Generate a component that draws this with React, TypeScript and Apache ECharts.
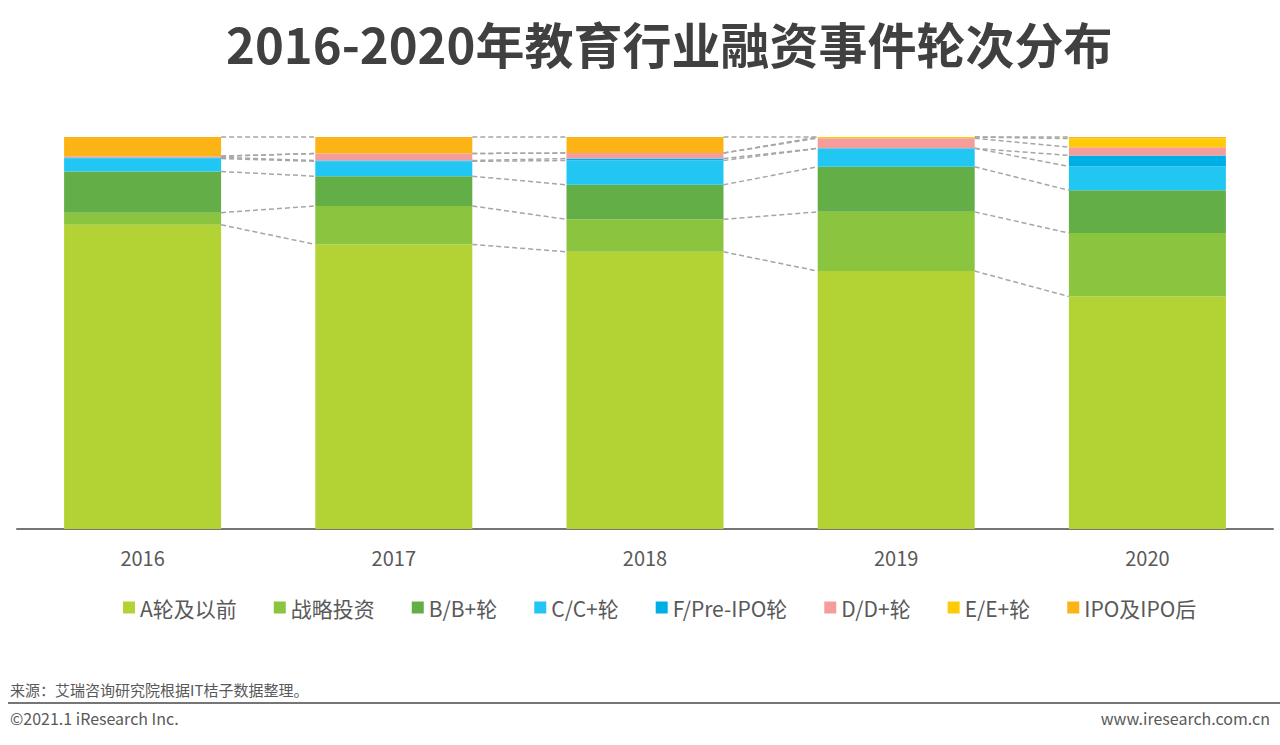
import React, { useEffect, useRef } from "react";
import * as echarts from "echarts";

const years = ["2016", "2017", "2018", "2019", "2020"];
const seriesNames = ["A轮及以前", "战略投资", "B/B+轮", "C/C+轮", "F/Pre-IPO轮", "D/D+轮", "E/E+轮", "IPO及IPO后"];
const colors = ["#B3D234", "#8BC43F", "#64AE47", "#21C7F2", "#00AEE6", "#F59D9D", "#FFCB05", "#FBB316"];

const roundA = [77.6, 72.6, 70.7, 65.8, 59.3];
const strategic = [3.1, 9.8, 8.3, 15.1, 16.2];
const roundB = [10.5, 7.6, 8.8, 11.5, 10.9];
const roundC = [3.3, 3.8, 6.2, 4.7, 6.1];
const roundF = [0.3, 0.2, 0.5, 0, 2.8];
const roundD = [0.3, 1.8, 1.4, 2.6, 2.1];
const roundE = [0, 0, 0, 0.3, 2.2];
const ipo = [4.9, 4.2, 4.1, 0, 0.4];

const allSeries = [roundA, strategic, roundB, roundC, roundF, roundD, roundE, ipo];

const title = "2016-2020年教育行业融资事件轮次分布";
const source = "来源：艾瑞咨询研究院根据IT桔子数据整理。";
const copyright = "©2021.1 iResearch Inc.";
const website = "www.iresearch.com.cn";

const BAR_RATIO = 0.625;
const FONT = '"Noto Sans CJK SC", "Noto Sans", sans-serif';

export default function App() {
  const ref = useRef<HTMLDivElement>(null);

  useEffect(() => {
    if (!ref.current) return;
    const chart = echarts.init(ref.current, undefined, { renderer: "svg" });

    // cumulative tops for series lines
    const cum: number[][] = [];
    allSeries.forEach((arr, k) => {
      cum.push(arr.map((v, i) => (k === 0 ? 0 : cum[k - 1][i]) + v));
    });
    const lineData: number[][] = [];
    cum.forEach((c) => {
      for (let i = 0; i < years.length - 1; i++) {
        lineData.push([i, c[i], c[i + 1]]);
      }
    });

    const barSeries = allSeries.map((arr, k) => ({
      name: seriesNames[k],
      type: "bar",
      stack: "total",
      data: arr,
      barWidth: BAR_RATIO * 100 + "%",
      itemStyle: { color: colors[k] },
      emphasis: { disabled: true },
    }));

    chart.setOption({
      animation: false,
      textStyle: { fontFamily: FONT },
      title: {
        text: title,
        left: 221,
        top: 13,
        textStyle: { fontSize: 49, fontWeight: "bold", color: "#404040", fontFamily: FONT },
      },
      grid: { left: 17, right: 7, top: 137, bottom: 216 },
      legend: {
        data: seriesNames,
        left: 118,
        top: 592,
        icon: "rect",
        itemWidth: 12,
        itemHeight: 12,
        itemGap: 37,
        textStyle: { fontSize: 21, color: "#595959", fontFamily: FONT },
      },
      xAxis: {
        type: "category",
        data: years,
        axisLine: { lineStyle: { color: "#767676", width: 2 } },
        axisTick: { show: false },
        axisLabel: { fontSize: 20, color: "#595959", margin: 18, fontFamily: FONT },
      },
      yAxis: {
        type: "value",
        min: 0,
        max: 100,
        show: false,
        splitLine: { show: false },
      },
      series: [
        ...barSeries,
        {
          type: "custom",
          name: "serieslines",
          data: lineData,
          encode: { x: 0, y: [1, 2] },
          silent: true,
          z: 1,
          renderItem: (params: any, api: any) => {
            const i = api.value(0);
            const p1 = api.coord([i, api.value(1)]);
            const p2 = api.coord([i + 1, api.value(2)]);
            const half = (api.size([1, 0])[0] * BAR_RATIO) / 2;
            return {
              type: "line",
              shape: { x1: p1[0] + half, y1: p1[1], x2: p2[0] - half, y2: p2[1] },
              style: { stroke: "#A6A6A6", lineWidth: 1.5, lineDash: [5, 3] },
            };
          },
        },
      ],
      graphic: [
        {
          type: "text",
          left: 10,
          top: 682,
          style: { text: source, fontSize: 15, fill: "#595959", fontFamily: FONT },
        },
        {
          type: "line",
          shape: { x1: 8, y1: 703, x2: 1280, y2: 703 },
          style: { stroke: "#767676", lineWidth: 2 },
        },
        {
          type: "text",
          left: 10,
          top: 710,
          style: { text: copyright, fontSize: 16, fill: "#595959", fontFamily: FONT },
        },
        {
          type: "text",
          right: 10,
          top: 710,
          style: { text: website, fontSize: 16, fill: "#595959", fontFamily: FONT },
        },
      ],
    });

    return () => chart.dispose();
  }, []);

  return (
    <div
      ref={ref}
      style={{ position: "fixed", left: 0, top: 0, width: 1280, height: 745, background: "#ffffff" }}
    />
  );
}
